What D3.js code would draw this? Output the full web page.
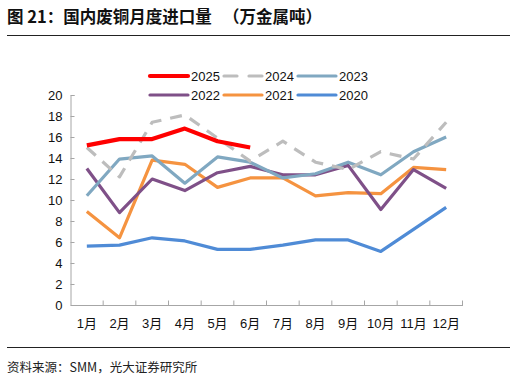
<!DOCTYPE html>
<html><head><meta charset="utf-8">
<script src="https://cdn.jsdelivr.net/npm/d3@7"></script>
<style>body{margin:0;background:#fff}svg{display:block}</style>
</head><body>
<script>
const months = ["1月","2月","3月","4月","5月","6月","7月","8月","9月","10月","11月","12月"];
const yTicks = [0,2,4,6,8,10,12,14,16,18,20];
const s2025 = [15.2,15.8,15.8,16.8,15.6,15.0];
const s2024 = [15.0,12.2,17.4,18.1,15.9,13.7,15.6,13.6,12.9,14.6,13.9,17.4];
const s2023 = [10.4,13.9,14.2,11.6,14.1,13.6,12.1,12.5,13.6,12.4,14.6,16.0];
const s2022 = [13.0,8.8,12.0,10.9,12.6,13.2,12.4,12.4,13.3,9.1,12.9,11.1];
const s2021 = [8.9,6.4,13.8,13.4,11.2,12.1,12.1,10.4,10.7,10.6,13.1,12.9];
const s2020 = [5.6,5.7,6.4,6.1,5.3,5.3,5.7,6.2,6.2,5.1,7.2,9.3];
const series = [
  {name:"2020", data:s2020, color:"#4f8bd6", w:3.2, dash:null},
  {name:"2021", data:s2021, color:"#f59340", w:3.2, dash:null},
  {name:"2022", data:s2022, color:"#7f5088", w:3.2, dash:null},
  {name:"2023", data:s2023, color:"#80a8c1", w:3.2, dash:null},
  {name:"2024", data:s2024, color:"#bdbdbd", w:3.2, dash:"12,9"},
  {name:"2025", data:s2025, color:"#ff0000", w:4.2, dash:null}
];
const legendOrder = ["2025","2024","2023","2022","2021","2020"];

const W=516,H=381;
const font = "'Liberation Sans', Arial, 'Noto Sans CJK SC', sans-serif";
const svg = d3.select("body").append("svg").attr("width",W).attr("height",H)
  .style("font-family",font);

svg.append("text").attr("x",7).attr("y",23).attr("font-size",16.5).attr("font-weight","bold")
  .attr("fill","#111").style("font-family","'Noto Sans CJK SC', sans-serif").style("white-space","pre")
  .text("图 21：国内废铜月度进口量   （万金属吨）");
svg.append("line").attr("x1",7).attr("x2",510).attr("y1",35.5).attr("y2",35.5).attr("stroke","#222").attr("stroke-width",1);
svg.append("line").attr("x1",7).attr("x2",510).attr("y1",347.5).attr("y2",347.5).attr("stroke","#222").attr("stroke-width",1);
svg.append("text").attr("x",7).attr("y",372).attr("font-size",12.5).attr("fill","#222")
  .style("font-family","'Noto Sans CJK SC', sans-serif")
  .text("资料来源：SMM，光大证券研究所");

const x0=70.5, x1=462.5, yTop=95, yBot=305;
const x = d3.scaleBand().domain(months).range([x0,x1]);
const y = d3.scaleLinear().domain([0,20]).range([yBot,yTop]);

// y axis
const gy = svg.append("g").attr("transform",`translate(${x0},0)`)
  .call(d3.axisLeft(y).tickValues(yTicks).tickSize(-4).tickPadding(8));
gy.selectAll("path,line").attr("stroke","#a6a6a6");
gy.selectAll("text").attr("font-size",13).attr("fill","#111").style("font-family",font);
// x axis
const gx = svg.append("g").attr("transform",`translate(0,${yBot})`)
  .call(d3.axisBottom(x).tickSize(0).tickPadding(14));
gx.select("path").attr("stroke","#a6a6a6");
gx.selectAll("text").attr("font-size",13).attr("fill","#111").style("font-family",font);
const bounds = months.map((m,i)=>x(m)).concat([x1]).slice(1);
svg.append("g").selectAll("line").data(bounds).join("line")
  .attr("x1",d=>d).attr("x2",d=>d).attr("y1",yBot).attr("y2",yBot-4.5).attr("stroke","#a6a6a6");

const line = d3.line().x((d,i)=>x(months[i])+x.bandwidth()/2).y(d=>y(d));
svg.append("g").selectAll("path").data(series).join("path")
  .attr("d",d=>line(d.data)).attr("fill","none").attr("stroke",d=>d.color)
  .attr("stroke-width",d=>d.w).attr("stroke-dasharray",d=>d.dash)
  .attr("stroke-linejoin","round");

// legend
const lx=[150,224,298], ly=[76,95];
legendOrder.forEach((n,i)=>{
  const s = series.find(v=>v.name===n);
  const cx = lx[i%3], cy = ly[Math.floor(i/3)];
  svg.append("line").attr("x1",cx).attr("x2",cx+38).attr("y1",cy).attr("y2",cy)
    .attr("stroke",s.color).attr("stroke-width",s.w).attr("stroke-dasharray",s.dash?"13,12":null)
    .attr("stroke-linecap","round");
  svg.append("text").attr("x",cx+41).attr("y",cy+4.5).attr("font-size",13).attr("fill","#111").text(n);
});
</script>
</body></html>
